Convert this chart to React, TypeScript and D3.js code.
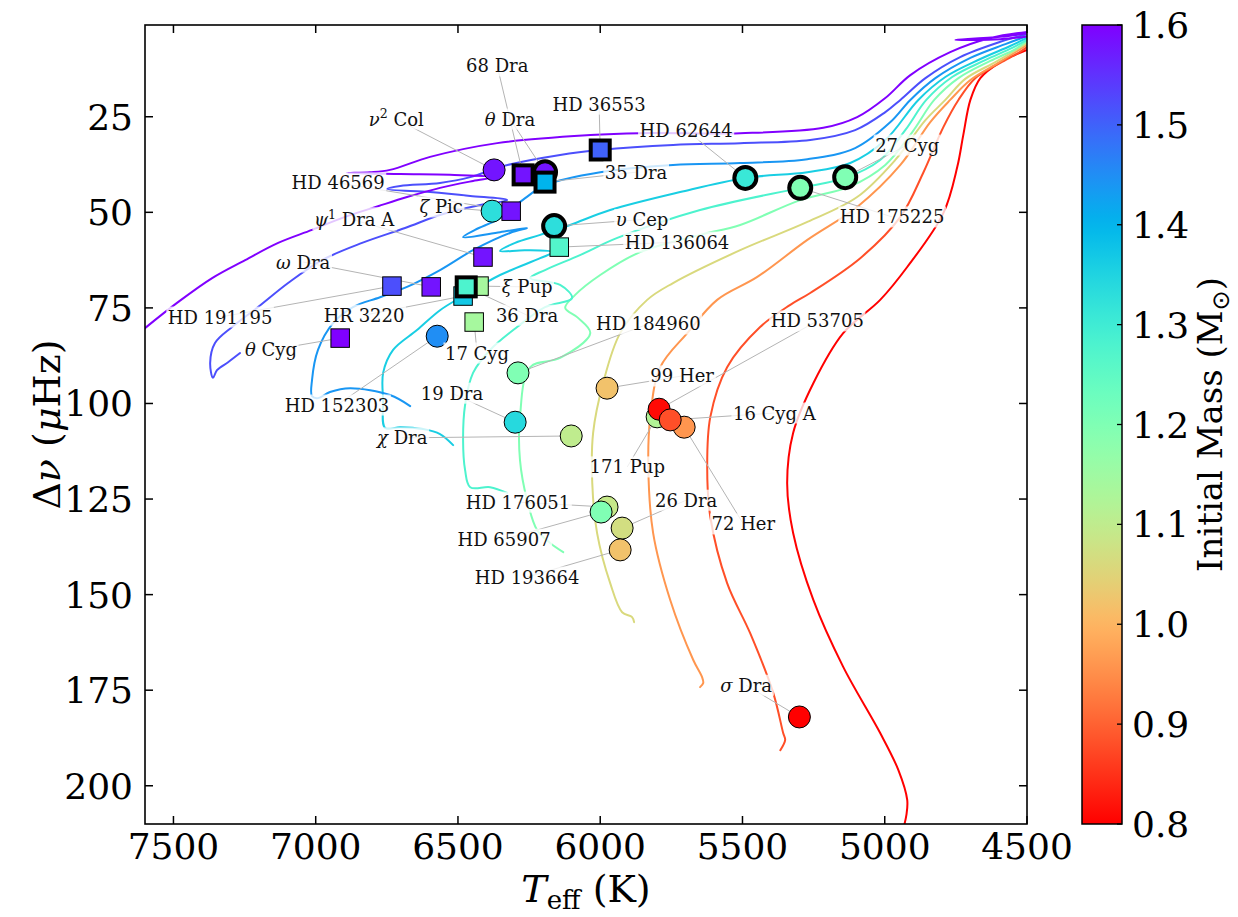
import React, { useEffect, useRef } from "react";
import * as d3 from "d3";

const WIDTH = 1238;
const HEIGHT = 917;
const PLOT = { left: 145, right: 1027, top: 25, bottom: 824 };
const CBAR = { left: 1082, right: 1122 };
const SERIF = "'DejaVu Serif', 'Liberation Serif', serif";

const xDomain: [number, number] = [7600, 4500];
const yDomain: [number, number] = [1, 210];
const massDomain: [number, number] = [0.8, 1.6];

const xTickValues = [7500, 7000, 6500, 6000, 5500, 5000, 4500];
const yTickValues = [25, 50, 75, 100, 125, 150, 175, 200];
const massTickValues = [0.8, 0.9, 1.0, 1.1, 1.2, 1.3, 1.4, 1.5, 1.6];

// Evolutionary tracks, [Teff (K), Δν (μHz)] from the main sequence to the red giant branch
const trackMasses = [0.8, 0.88, 0.96, 1.06, 1.2, 1.28, 1.36, 1.44, 1.52, 1.6];

const track080: [number, number][] = [
  [4938, 212.1], [4924, 207.7], [4921, 203.7], [4952, 195.9], [5016, 186.2], [5146, 168.9],
  [5251, 151.4], [5322, 133.9], [5343, 120.8], [5322, 107.7], [5251, 94.7], [5146, 81.6],
  [5016, 72.9], [4921, 64.3], [4794, 50.2], [4745, 38.1], [4724, 29.8], [4699, 20.6],
  [4664, 14.9], [4594, 10.7], [4541, 8.8], [4500, 7.5],
];
const track088: [number, number][] = [
  [5367, 190.7], [5350, 188.0], [5357, 186.2], [5392, 175.7], [5473, 160.1], [5554, 147.0],
  [5613, 129.7], [5624, 116.6], [5613, 103.5], [5554, 90.5], [5438, 80.0], [5332, 74.2],
  [5262, 71.1], [5086, 62.0], [4945, 51.2], [4865, 39.7], [4794, 27.7], [4741, 20.6],
  [4682, 14.9], [4594, 10.9], [4530, 8.3], [4500, 6.8],
];
const track096: [number, number][] = [
  [5649, 174.2], [5638, 173.1], [5642, 171.6], [5673, 167.1], [5754, 151.4], [5814, 133.9],
  [5831, 116.6], [5824, 103.5], [5789, 90.5], [5694, 81.6], [5589, 72.9], [5448, 66.9],
  [5272, 57.2], [5097, 48.6], [4945, 37.6], [4840, 26.4], [4770, 20.6], [4699, 15.4],
  [4601, 10.9], [4534, 7.8], [4500, 6.2],
];
const track106: [number, number][] = [
  [5881, 157.2], [5888, 155.9], [5923, 154.6], [5965, 147.0], [6011, 133.9], [6028, 120.8],
  [6025, 107.7], [5990, 94.7], [5930, 81.6], [5835, 72.9], [5744, 68.5], [5508, 59.9],
  [5272, 52.5], [5097, 46.0], [4963, 36.3], [4857, 25.9], [4787, 20.6], [4717, 15.1],
  [4611, 10.7], [4538, 7.5], [4500, 5.7],
];
const track120: [number, number][] = [
  [6130, 138.9], [6176, 136.5], [6222, 133.1], [6257, 125.3], [6282, 114.8], [6282, 103.5],
  [6246, 90.5], [6141, 88.1], [6035, 81.6], [6078, 77.6], [6123, 75.0], [6088, 71.6],
  [6000, 66.4], [5860, 60.4], [5649, 55.9], [5508, 53.3], [5297, 46.8], [5121, 43.2],
  [4998, 37.6], [4903, 29.0], [4826, 20.6], [4741, 14.9], [4629, 10.4], [4541, 7.3], [4500, 5.2],
];
const track128: [number, number][] = [
  [6327, 123.4], [6387, 121.9], [6457, 121.9], [6475, 117.4], [6482, 109.6], [6475, 100.4],
  [6447, 92.0], [6387, 86.0], [6292, 80.0], [6194, 74.8], [6099, 72.4], [6141, 69.0],
  [6246, 67.2], [6194, 65.1], [6071, 61.2], [5940, 56.7], [5649, 49.4], [5297, 43.6],
  [5139, 41.0], [5016, 36.3], [4928, 28.5], [4854, 20.6], [4763, 14.6], [4647, 10.2],
  [4552, 7.0], [4500, 4.9],
];
const track136: [number, number][] = [
  [6517, 110.9], [6563, 108.0], [6623, 106.7], [6703, 106.2], [6756, 106.4], [6763, 99.1],
  [6763, 92.0], [6728, 86.0], [6644, 80.8], [6563, 75.6], [6482, 71.9], [6352, 66.4],
  [6211, 62.0], [6166, 60.4], [6264, 59.9], [6352, 60.1], [6299, 58.0], [6211, 55.9],
  [6106, 53.3], [5965, 49.4], [5719, 44.7], [5490, 41.0], [5272, 39.5], [5121, 37.1],
  [4998, 31.1], [4882, 20.6], [4787, 14.6], [4664, 9.9], [4559, 6.5], [4500, 4.4],
];
const track144: [number, number][] = [
  [6668, 100.7], [6739, 97.8], [6879, 96.0], [6950, 97.0], [6992, 98.6], [7013, 98.1],
  [7013, 93.9], [6992, 86.0], [6939, 79.0], [6869, 74.8], [6774, 72.2], [6679, 69.5],
  [6563, 65.1], [6447, 59.9], [6317, 55.4], [6257, 54.1], [6352, 55.2], [6482, 56.5],
  [6440, 54.6], [6352, 51.5], [6264, 46.3], [6194, 42.9], [6000, 39.5], [5744, 37.6],
  [5508, 37.1], [5272, 36.1], [5104, 33.2], [4980, 26.4], [4910, 20.6], [4822, 14.9],
  [4699, 9.6], [4576, 6.0], [4500, 3.9],
];
const track152: [number, number][] = [
  [7266, 86.8], [7308, 89.2], [7347, 91.3], [7361, 93.3], [7371, 89.4], [7354, 84.2],
  [7294, 80.0], [7203, 74.8], [7097, 68.5], [6978, 62.5], [6837, 58.0], [6686, 54.1],
  [6563, 50.7], [6422, 48.1], [6327, 46.8], [6457, 45.7], [6598, 44.7], [6749, 43.9],
  [6703, 43.1], [6563, 42.3], [6457, 40.8], [6341, 37.9], [6141, 35.0], [6000, 33.7],
  [5744, 32.4], [5508, 31.9], [5262, 31.1], [5104, 28.5], [4998, 23.8], [4945, 20.6],
  [4857, 14.9], [4735, 9.4], [4594, 5.4], [4500, 3.4],
];
const track160: [number, number][] = [
  [7670, 84.7], [7600, 80.3], [7484, 73.5], [7364, 67.2], [7248, 62.5], [7132, 58.0],
  [7013, 54.6], [6897, 51.2], [6781, 48.4], [6679, 46.0], [6563, 43.6], [6447, 41.8],
  [6373, 40.8], [6528, 40.2], [6703, 40.0], [6890, 39.7], [6809, 39.5], [6739, 38.9],
  [6598, 35.5], [6362, 31.9], [6035, 29.8], [5860, 29.3], [5508, 29.3], [5216, 27.9],
  [5097, 25.1], [4998, 20.1], [4910, 14.1], [4770, 8.1], [4629, 4.4], [4500, 2.8],
  [4453, 2.6], [4594, 4.1], [4752, 4.9], [4594, 4.7], [4453, 3.6],
];
const trackPoints = [
  track080, track088, track096, track106, track120,
  track128, track136, track144, track152, track160,
];

// Observed stars (drawing order: circles, then squares)
const starNames = [
  "ν² Col", "θ Dra", "HD 62644", "HD 175225", "27 Cyg", "υ Cep", "ζ Pic", "HD 152303",
  "HD 184960", "19 Dra", "χ Dra", "99 Her", "171 Pup", "HD 53705", "72 Her", "16 Cyg A",
  "HD 176051", "HD 65907", "26 Dra", "HD 193664", "σ Dra",
  "68 Dra", "35 Dra", "HD 36553", "HD 136064", "HD 46569", "ψ¹ Dra A", "ω Dra",
  "HD 191195", "HR 3220", "ξ Pup", "36 Dra", "17 Cyg", "θ Cyg",
];
const starTeff = [
  6373, 6194, 5490, 5297, 5139, 6162, 6380, 6573,
  6289, 6299, 6102, 5976, 5800, 5793, 5705, 5754,
  5976, 5997, 5923, 5930, 5300,
  6271, 6194, 6000, 6144, 6313, 6412, 6594,
  6732, 6482, 6426, 6471, 6443, 6914,
];
const starDnu = [
  38.9, 39.5, 41.0, 43.6, 40.8, 53.6, 49.7, 82.4,
  92.0, 104.9, 108.5, 96.0, 103.5, 101.5, 106.2, 104.3,
  127.1, 128.4, 132.6, 138.3, 182.0,
  40.2, 42.1, 33.7, 59.1, 49.7, 61.7, 69.5,
  69.3, 71.9, 69.3, 69.5, 78.7, 82.9,
];
const starMass = [
  1.58, 1.58, 1.31, 1.2, 1.2, 1.33, 1.33, 1.45,
  1.2, 1.34, 1.1, 1.02, 1.12, 0.81, 0.96, 0.88,
  1.09, 1.2, 1.07, 1.02, 0.8,
  1.58, 1.4, 1.5, 1.27, 1.58, 1.58, 1.58,
  1.52, 1.37, 1.14, 1.28, 1.14, 1.6,
];
const starShape = [
  "o", "o", "o", "o", "o", "o", "o", "o",
  "o", "o", "o", "o", "o", "o", "o", "o",
  "o", "o", "o", "o", "o",
  "s", "s", "s", "s", "s", "s", "s",
  "s", "s", "s", "s", "s", "s",
];
const starBold = [
  false, true, true, true, true, true, false, false,
  false, false, false, false, false, false, false, false,
  false, false, false, false, false,
  true, true, true, false, false, false, false,
  false, false, false, true, false, false,
];
// Annotation positions (centre of each name)
const labelTeff = [
  6717, 6317, 5698, 4974, 4921, 5853, 6559, 6925,
  5831, 6521, 6696, 5712, 5905, 5237, 5497, 5388,
  6289, 6338, 5698, 6257, 5487,
  6362, 5874, 6004, 5730, 6921, 6865, 7044,
  7336, 6830, 6257, 6257, 6433, 7157,
];
const labelDnu = [
  25.6, 25.6, 28.5, 51.2, 32.4, 51.9, 48.6, 100.4,
  79.2, 97.3, 109.0, 92.8, 116.6, 78.4, 131.5, 102.5,
  125.8, 135.5, 125.3, 145.4, 173.7,
  11.7, 39.5, 21.7, 57.8, 42.3, 52.0, 63.0,
  77.4, 76.9, 69.5, 76.9, 86.8, 86.0,
];

// matplotlib "rainbow", reversed over the mass range
function massColor(m: number): string {
  const s = Math.max(0, Math.min(1, 1 - (m - massDomain[0]) / (massDomain[1] - massDomain[0])));
  const c = (v: number) => Math.round(255 * Math.max(0, Math.min(1, v)));
  return d3
    .rgb(c(Math.abs(2 * s - 0.5)), c(Math.sin(Math.PI * s)), c(Math.cos((Math.PI * s) / 2)))
    .formatHex();
}

const SUP: Record<string, string> = { "¹": "1", "²": "2" };

function appendRich(text: d3.Selection<SVGTextElement, unknown, null, undefined>, str: string, size: number) {
  const chars = Array.from(str);
  const kind = (ch: string) => (SUP[ch] ? "s" : /[α-ω]/.test(ch) ? "g" : "n");
  let i = 0;
  let raised = false;
  while (i < chars.length) {
    const k = kind(chars[i]);
    let j = i;
    let run = "";
    while (j < chars.length && kind(chars[j]) === k) {
      run += k === "s" ? SUP[chars[j]] : chars[j];
      j++;
    }
    const t = text.append("tspan").text(run);
    if (k === "g") t.attr("font-style", "italic");
    if (k === "s") {
      t.attr("font-size", size * 0.7).attr("dy", -size * 0.4);
      raised = true;
    } else if (raised) {
      t.attr("dy", size * 0.4);
      raised = false;
    }
    i = j;
  }
}

export default function App() {
  const ref = useRef<SVGSVGElement | null>(null);

  useEffect(() => {
    if (!ref.current) return;
    const svg = d3.select(ref.current);
    svg.selectAll("*").remove();

    const x = d3.scaleLinear().domain(xDomain).range([PLOT.left, PLOT.right]);
    const y = d3.scaleLinear().domain(yDomain).range([PLOT.top, PLOT.bottom]);
    const cbY = d3.scaleLinear().domain(massDomain).range([PLOT.bottom, PLOT.top]);

    svg.append("rect").attr("width", WIDTH).attr("height", HEIGHT).attr("fill", "#ffffff");

    const defs = svg.append("defs");
    defs
      .append("clipPath")
      .attr("id", "plot-clip")
      .append("rect")
      .attr("x", PLOT.left)
      .attr("y", PLOT.top)
      .attr("width", PLOT.right - PLOT.left)
      .attr("height", PLOT.bottom - PLOT.top);

    const grad = defs
      .append("linearGradient")
      .attr("id", "mass-gradient")
      .attr("x1", 0)
      .attr("y1", 1)
      .attr("x2", 0)
      .attr("y2", 0);
    d3.range(0, 1.0001, 0.02).forEach((t) =>
      grad
        .append("stop")
        .attr("offset", t)
        .attr("stop-color", massColor(massDomain[0] + (massDomain[1] - massDomain[0]) * t))
    );

    // evolutionary tracks
    const line = d3
      .line<[number, number]>()
      .x((d) => x(d[0]))
      .y((d) => y(d[1]))
      .curve(d3.curveCatmullRom.alpha(0.5));
    const gTracks = svg.append("g").attr("clip-path", "url(#plot-clip)");
    trackPoints.forEach((pts, i) => {
      gTracks
        .append("path")
        .attr("d", line(pts) || "")
        .attr("fill", "none")
        .attr("stroke", massColor(trackMasses[i]))
        .attr("stroke-width", 2)
        .attr("stroke-linejoin", "round")
        .attr("stroke-linecap", "round");
    });

    // leader lines
    const gLeaders = svg.append("g");
    starNames.forEach((_, i) => {
      gLeaders
        .append("line")
        .attr("x1", x(labelTeff[i]))
        .attr("y1", y(labelDnu[i]))
        .attr("x2", x(starTeff[i]))
        .attr("y2", y(starDnu[i]))
        .attr("stroke", "#b4b4b4")
        .attr("stroke-width", 1);
    });

    // stars
    const gStars = svg.append("g");
    starNames.forEach((_, i) => {
      const px = x(starTeff[i]);
      const py = y(starDnu[i]);
      const sw = starBold[i] ? 4 : 1;
      if (starShape[i] === "o") {
        gStars
          .append("circle")
          .attr("cx", px)
          .attr("cy", py)
          .attr("r", 11)
          .attr("fill", massColor(starMass[i]))
          .attr("stroke", "#000")
          .attr("stroke-width", sw);
      } else {
        const side = starBold[i] ? 19 : 18.5;
        gStars
          .append("rect")
          .attr("x", px - side / 2)
          .attr("y", py - side / 2)
          .attr("width", side)
          .attr("height", side)
          .attr("fill", massColor(starMass[i]))
          .attr("stroke", "#000")
          .attr("stroke-width", sw);
      }
    });

    // star names on translucent white boxes
    const gLabels = svg.append("g");
    starNames.forEach((name, i) => {
      const g = gLabels.append("g");
      const box = g.append("rect").attr("fill", "#ffffff").attr("fill-opacity", 0.78);
      const t = g
        .append("text")
        .attr("x", x(labelTeff[i]))
        .attr("y", y(labelDnu[i]) + 6.5)
        .attr("text-anchor", "middle")
        .attr("font-family", SERIF)
        .attr("font-size", 18)
        .attr("fill", "#111");
      appendRich(t, name, 18);
      const bb = (t.node() as SVGTextElement).getBBox();
      box
        .attr("x", bb.x - 1.5)
        .attr("y", bb.y)
        .attr("width", bb.width + 3)
        .attr("height", bb.height);
    });

    // axes frame and inward ticks
    const gAxes = svg.append("g").attr("stroke", "#000").attr("stroke-width", 1.5);
    xTickValues.forEach((v) => {
      const px = x(v);
      gAxes.append("line").attr("x1", px).attr("x2", px).attr("y1", PLOT.bottom).attr("y2", PLOT.bottom - 8);
      gAxes.append("line").attr("x1", px).attr("x2", px).attr("y1", PLOT.top).attr("y2", PLOT.top + 8);
    });
    yTickValues.forEach((v) => {
      const py = y(v);
      gAxes.append("line").attr("x1", PLOT.left).attr("x2", PLOT.left + 8).attr("y1", py).attr("y2", py);
      gAxes.append("line").attr("x1", PLOT.right).attr("x2", PLOT.right - 8).attr("y1", py).attr("y2", py);
    });
    svg
      .append("rect")
      .attr("x", PLOT.left)
      .attr("y", PLOT.top)
      .attr("width", PLOT.right - PLOT.left)
      .attr("height", PLOT.bottom - PLOT.top)
      .attr("fill", "none")
      .attr("stroke", "#000")
      .attr("stroke-width", 1.6);

    const gTickText = svg
      .append("g")
      .attr("font-family", SERIF)
      .attr("font-size", 36)
      .attr("fill", "#000");
    xTickValues.forEach((v) => {
      gTickText.append("text").attr("x", x(v)).attr("y", 859).attr("text-anchor", "middle").text(String(v));
    });
    yTickValues.forEach((v) => {
      gTickText.append("text").attr("x", 133).attr("y", y(v) + 13).attr("text-anchor", "end").text(String(v));
    });

    // axis titles
    const xt = svg
      .append("text")
      .attr("x", (PLOT.left + PLOT.right) / 2)
      .attr("y", 902)
      .attr("text-anchor", "middle")
      .attr("font-family", SERIF)
      .attr("font-size", 38);
    xt.append("tspan").attr("font-style", "italic").text("T");
    xt.append("tspan").attr("font-size", 26).attr("dy", 7).text("eff");
    xt.append("tspan").attr("dy", -7).text(" (K)");

    const yt = svg
      .append("text")
      .attr("transform", `translate(60, ${(PLOT.top + PLOT.bottom) / 2}) rotate(-90)`)
      .attr("text-anchor", "middle")
      .attr("font-family", SERIF)
      .attr("font-size", 38);
    yt.append("tspan").text("Δ");
    yt.append("tspan").attr("font-style", "italic").text("ν");
    yt.append("tspan").text(" (");
    yt.append("tspan").attr("font-style", "italic").text("μ");
    yt.append("tspan").text("Hz)");

    // colour bar
    svg
      .append("rect")
      .attr("x", CBAR.left)
      .attr("y", PLOT.top)
      .attr("width", CBAR.right - CBAR.left)
      .attr("height", PLOT.bottom - PLOT.top)
      .attr("fill", "url(#mass-gradient)")
      .attr("stroke", "#000")
      .attr("stroke-width", 1.5);
    const gCb = svg.append("g");
    massTickValues.forEach((m) => {
      const py = cbY(m);
      gCb
        .append("line")
        .attr("x1", CBAR.right)
        .attr("x2", CBAR.right - 5)
        .attr("y1", py)
        .attr("y2", py)
        .attr("stroke", "#000")
        .attr("stroke-width", 1.3);
      gCb
        .append("text")
        .attr("x", CBAR.right + 10)
        .attr("y", py + 13)
        .attr("font-family", SERIF)
        .attr("font-size", 36)
        .text(m.toFixed(1));
    });
    const ct = svg
      .append("text")
      .attr("transform", `translate(1222, ${(PLOT.top + PLOT.bottom) / 2}) rotate(-90)`)
      .attr("text-anchor", "middle")
      .attr("font-family", SERIF)
      .attr("font-size", 34);
    ct.append("tspan").text("Initial Mass (M");
    ct.append("tspan").attr("font-size", 24).attr("dy", 7).attr("font-family", "'DejaVu Sans', sans-serif").text("⊙");
    ct.append("tspan").attr("dy", -7).text(")");
  }, []);

  return (
    <svg
      ref={ref}
      width={WIDTH}
      height={HEIGHT}
      style={{ position: "absolute", left: 0, top: 0, display: "block" }}
    />
  );
}
